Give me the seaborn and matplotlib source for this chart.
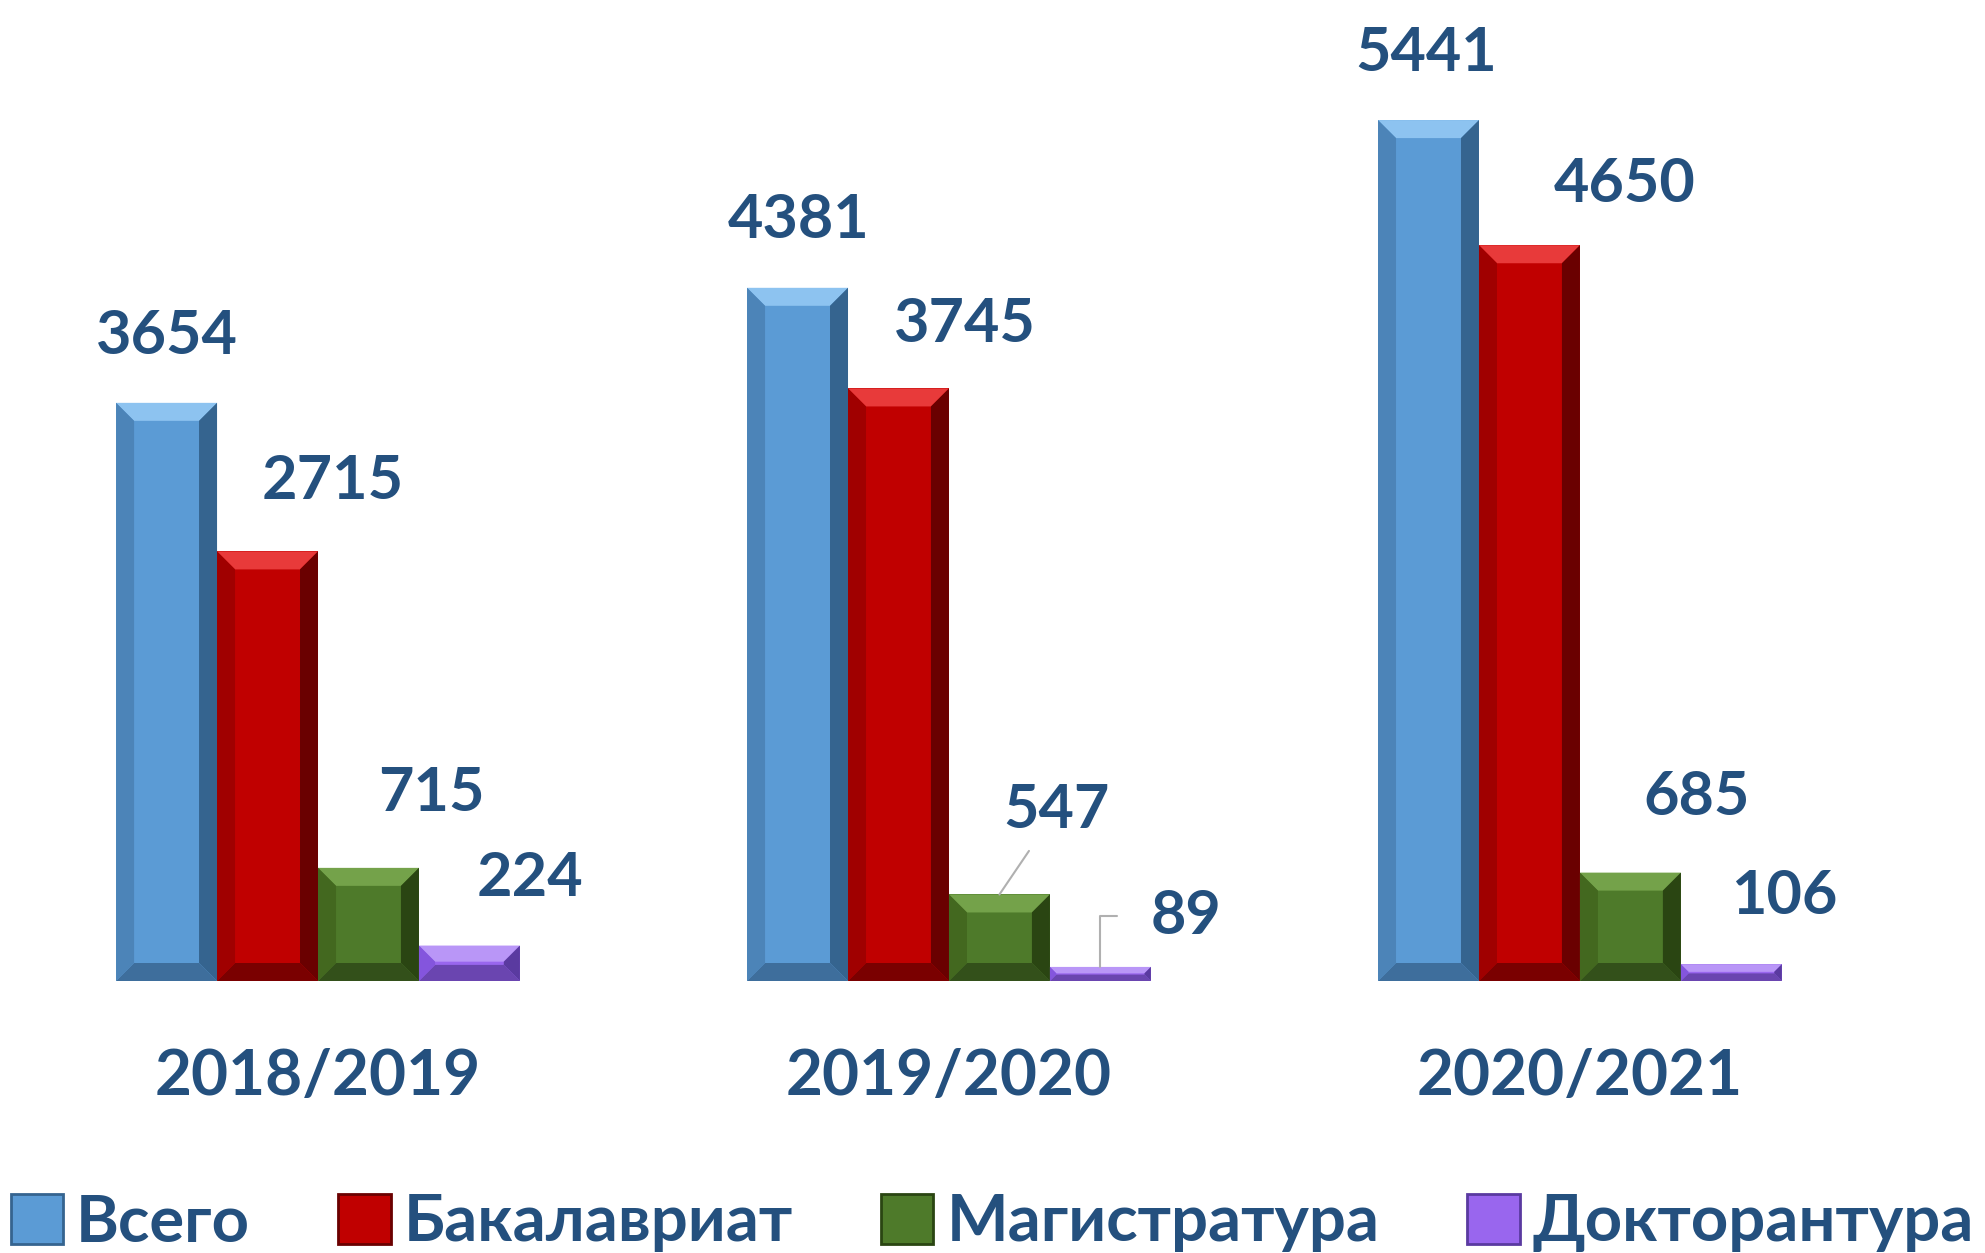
import numpy as np
import pandas as pd
import matplotlib.pyplot as plt
from matplotlib.patches import Polygon, Patch
import seaborn as sns

years = ['2018/2019', '2019/2020', '2020/2021']
levels = ['Всего', 'Бакалавриат', 'Магистратура', 'Докторантура']
vsego = [3654, 4381, 5441]
bakalavriat = [2715, 3745, 4650]
magistratura = [715, 547, 685]
doktorantura = [224, 89, 106]

colors = ['#5B9BD5', '#C00000', '#4E7A2A', '#9966EE']
# bevel shades: top, right, bottom, left
bevels = [['#8DC3F0', '#35648F', '#3E6E9C', '#4C84B8'],
          ['#E83A3A', '#6A0000', '#7A0000', '#A00000'],
          ['#74A24A', '#2A4512', '#33501A', '#43681F'],
          ['#B996F7', '#5A3AA0', '#6A45B0', '#8455DD']]
txt_color = '#24507E'

# label offsets in pixels from bar top centre
label_off = [[(0, 67), (1, 68), (-2, 67)],
             [(65, 70), (66, 64), (95, 61)],
             [(63, 75), (57, 84), (66, 76)],
             [(61, 68), (86, 51), (53, 68)]]

df = pd.DataFrame({'year': years * 4,
                   'level': np.repeat(levels, 3),
                   'value': vsego + bakalavriat + magistratura + doktorantura})

sns.set_style('white')
plt.rcParams['font.family'] = ['Lato', 'Open Sans', 'DejaVu Sans']

fig = plt.figure(figsize=(19.85, 12.53), dpi=100)
ax = fig.add_axes([0, 272 / 1253, 1, 981 / 1253])
sns.barplot(data=df, x='year', y='value', hue='level', order=years, hue_order=levels,
            palette=colors, width=0.64, saturation=1, legend=False, ax=ax,
            edgecolor='none', linewidth=0)
ax.set_xlim(-0.504, 2.642)
ax.set_ylim(0, 6200)

# bevel effect
bx = 18 / 631
by = 18 / (981 / 6200)
for i, cont in enumerate(ax.containers):
    for j, bar in enumerate(cont):
        x0, w, h = bar.get_x(), bar.get_width(), bar.get_height()
        x1 = x0 + w
        d = min(by, h / 2.2)
        dx = bx * d / by
        top, right, bot, left = bevels[i]
        ax.add_patch(Polygon([(x0, h), (x1, h), (x1 - dx, h - d), (x0 + dx, h - d)], color=top, lw=0))
        ax.add_patch(Polygon([(x1, h), (x1, 0), (x1 - dx, d), (x1 - dx, h - d)], color=right, lw=0))
        ax.add_patch(Polygon([(x0, 0), (x1, 0), (x1 - dx, d), (x0 + dx, d)], color=bot, lw=0))
        ax.add_patch(Polygon([(x0, h), (x0, 0), (x0 + dx, d), (x0 + dx, h - d)], color=left, lw=0))
        xc = x0 + w / 2
        ox, oy = label_off[i][j]
        arrow = None
        if i == 2 and j == 1:
            arrow = dict(arrowstyle='-', color='#B0B0B0', lw=1.5, shrinkA=8, shrinkB=0)
        if i == 3 and j == 1:
            arrow = dict(arrowstyle='-', color='#B0B0B0', lw=1.5, shrinkA=22, shrinkB=0,
                         connectionstyle='angle,angleA=0,angleB=90,rad=0')
        ax.annotate(f'{int(h)}', xy=(xc, h), xytext=(ox, oy), textcoords='offset pixels',
                    ha='center', va='center', fontsize=44, fontweight='bold',
                    color=txt_color, arrowprops=arrow)

ax.set_xlabel('')
ax.set_ylabel('')
ax.set_yticks([])
ax.tick_params(axis='x', length=0, pad=48, labelsize=46, labelcolor=txt_color)
for lab in ax.get_xticklabels():
    lab.set_fontweight('bold')
for s in ax.spines.values():
    s.set_visible(False)

handles = [Patch(facecolor=c, edgecolor=b[1], linewidth=2) for c, b in zip(colors, bevels)]
leg = fig.legend(handles, levels, loc='center', bbox_to_anchor=(0.5, 30 / 1253), ncol=4,
                 frameon=False, fontsize=47, handlelength=0.8, handleheight=0.8,
                 handletextpad=0.2, columnspacing=1.35, borderaxespad=0)
for t in leg.get_texts():
    t.set_color(txt_color)
    t.set_fontweight('bold')

fig.savefig('out.png', dpi=100, facecolor='white')
